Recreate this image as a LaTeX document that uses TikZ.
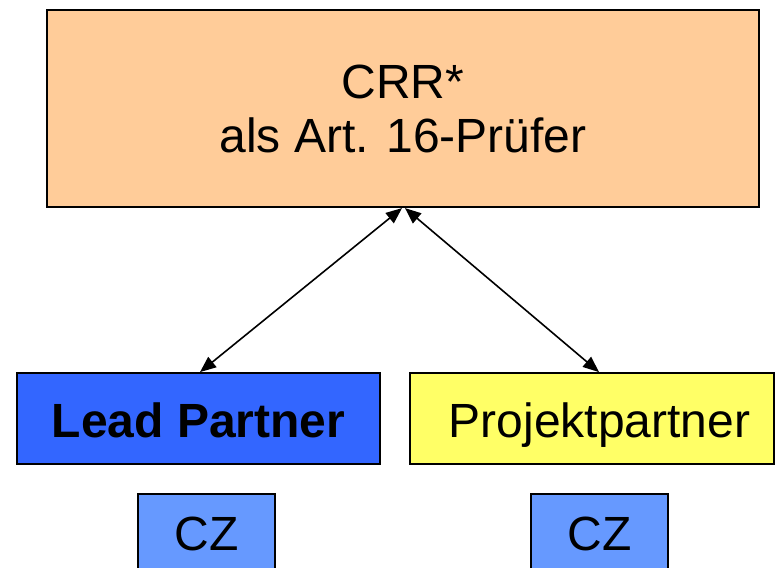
\documentclass[tikz,border=0pt]{standalone}
\usepackage{fontspec}
\setmainfont{Liberation Sans}
\usetikzlibrary{arrows.meta}
\definecolor{peach}{HTML}{FFCC99}
\definecolor{leadblue}{HTML}{3366FF}
\definecolor{ppyellow}{HTML}{FFFF66}
\definecolor{czblue}{HTML}{6699FF}
\tikzset{
  box/.style={draw=black, line width=1.8pt, inner sep=0pt, font=\fontsize{48}{54}\selectfont},
  oneline/.style={text height=37pt, text depth=0pt},
  link/.style={line width=1.6pt, {Triangle[length=16pt,width=13pt]}-{Triangle[length=16pt,width=13pt]}}
}
\begin{document}
\begin{tikzpicture}[x=1pt,y=-1pt]
\useasboundingbox (0,0) rectangle (775,567);
\clip (0,0) rectangle (775,567);
\node[box, line width=2.2pt, fill=peach, minimum width=712pt, minimum height=197pt, align=center] (crr) at (403,108.5) {CRR*\\als Art. 16-Prüfer};
\node[box, oneline, fill=leadblue, minimum width=363pt, minimum height=91pt, font=\fontsize{48}{54}\selectfont\bfseries] (lp) at (198.5,418.5) {Lead Partner};
\node[box, oneline, fill=ppyellow, minimum width=364pt, minimum height=91pt] (pp) at (592,418.5) {\hspace*{15pt}Projektpartner};
\node[box, fill=czblue, minimum width=137pt, minimum height=78pt, text height=34pt, text depth=0pt] (cz1) at (206.5,533) {CZ};
\node[box, fill=czblue, minimum width=137pt, minimum height=78pt, text height=34pt, text depth=0pt] (cz2) at (599.5,533) {CZ};
\draw[link] ([xshift=-1pt]crr.south) -- ([xshift=1.5pt]lp.north);
\draw[link] ([xshift=2pt]crr.south) -- ([xshift=7pt]pp.north);
\end{tikzpicture}
\end{document}
